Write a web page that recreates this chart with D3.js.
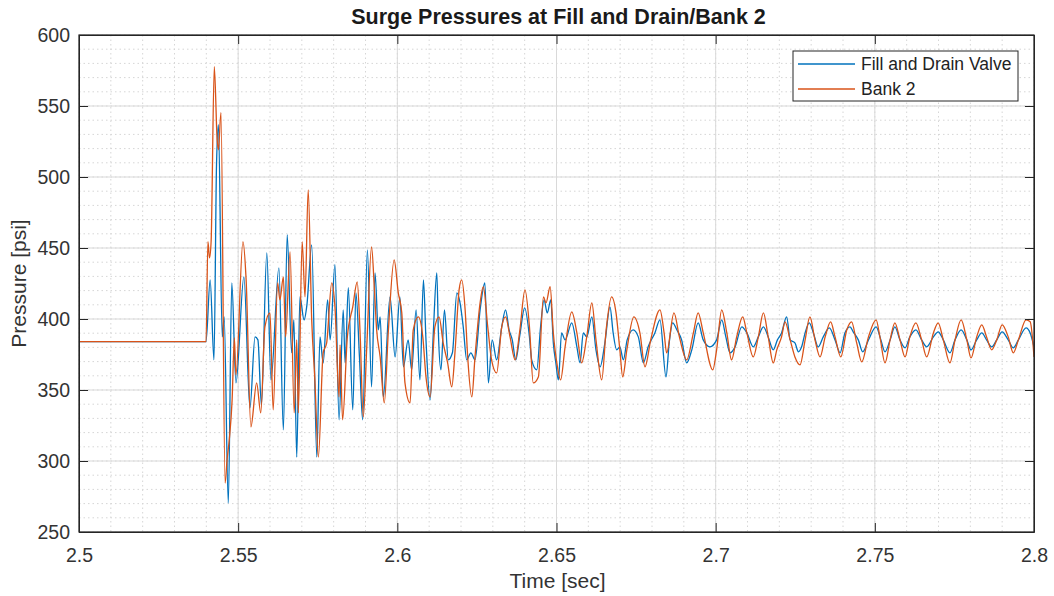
<!DOCTYPE html>
<html><head><meta charset="utf-8">
<script src="https://cdn.jsdelivr.net/npm/d3@7"></script>
<style>body{margin:0;background:#fff}text{font-family:"Liberation Sans",Arial,Helvetica,sans-serif}</style>
</head><body><svg id="c" width="1054" height="596"></svg>
<script>
const chartTitle = "Surge Pressures at Fill and Drain/Bank 2";
const xLabel = "Time [sec]";
const yLabel = "Pressure [psi]";
const xTicks = [2.5, 2.55, 2.6, 2.65, 2.7, 2.75, 2.8];
const xTickLabels = ["2.5", "2.55", "2.6", "2.65", "2.7", "2.75", "2.8"];
const yTicks = [250, 300, 350, 400, 450, 500, 550, 600];
const yTickLabels = ["250", "300", "350", "400", "450", "500", "550", "600"];
const seriesNames = ["Fill and Drain Valve", "Bank 2"];

// Fill and Drain Valve (blue)
const valveTime = [2.5000,2.5399,2.5412,2.5424,2.5432,2.5438,2.5450,2.5456,2.5469,2.5480,2.5493,2.5518,2.5537,2.5553,2.5562,2.5573,2.5590,2.5603,2.5628,2.5642,2.5654,2.5668,2.5675,2.5684,2.5694,2.5707,2.5716,2.5731,2.5747,2.5757,2.5767,2.5781,2.5789,2.5804,2.5817,2.5830,2.5836,2.5846,2.5860,2.5870,2.5881,2.5891,2.5906,2.5919,2.5930,2.5940,2.5946,2.5956,2.5977,2.5993,2.6008,2.6019,2.6034,2.6045,2.6059,2.6071,2.6082,2.6090,2.6103,2.6113,2.6124,2.6129,2.6137,2.6148,2.6160,2.6173,2.6187,2.6197,2.6207,2.6218,2.6231,2.6244,2.6260,2.6275,2.6286,2.6298,2.6312,2.6328,2.6340,2.6351,2.6361,2.6372,2.6385,2.6400,2.6415,2.6422,2.6438,2.6450,2.6461,2.6471,2.6482,2.6490,2.6498,2.6506,2.6516,2.6527,2.6548,2.6564,2.6574,2.6584,2.6595,2.6611,2.6624,2.6637,2.6652,2.6668,2.6678,2.6689,2.6699,2.6710,2.6722,2.6741,2.6757,2.6773,2.6788,2.6809,2.6825,2.6844,2.6854,2.6865,2.6878,2.6893,2.6909,2.6925,2.6945,2.6961,2.6982,2.7003,2.7019,2.7032,2.7045,2.7061,2.7082,2.7098,2.7118,2.7134,2.7150,2.7165,2.7181,2.7194,2.7207,2.7223,2.7234,2.7249,2.7260,2.7270,2.7281,2.7294,2.7307,2.7322,2.7338,2.7357,2.7375,2.7391,2.7406,2.7422,2.7432,2.7448,2.7462,2.7480,2.7504,2.7519,2.7532,2.7548,2.7563,2.7579,2.7595,2.7610,2.7629,2.7647,2.7663,2.7684,2.7699,2.7715,2.7736,2.7752,2.7771,2.7789,2.7802,2.7820,2.7836,2.7851,2.7867,2.7883,2.7900,2.7919,2.7935,2.7951,2.7975,2.7988,2.8000];
const valvePressure = [384,384,427.6,371.2,508.6,536.8,387.4,401.5,270.4,425.5,355,429.7,337.4,387.4,385.3,339.5,446.6,357.1,436,321.9,459.3,376.2,399.4,302.8,415.6,399.4,410,452.2,302.8,387.4,369.1,413.5,385.3,438.2,329,406.4,369.1,422,336,418.4,373.3,329,448.7,352.2,432.5,392.4,401.5,345.1,415.6,373.3,415.6,366.3,385.3,364.2,406.4,357.1,427.6,385.3,343,390.2,432.5,390.2,364.2,406.4,371.2,376.2,418.4,411.4,394.5,371.2,376.2,371.2,406.4,425.5,355,385.3,371.2,394.5,406.4,392.4,385.3,371.2,388.8,407.8,387.4,371.2,364.2,394.5,413.5,404.3,413.5,383.2,369.1,357.1,390.2,385.3,397.3,380.4,369.1,390.2,387.4,401.5,378.3,366.3,383.2,408.6,390.2,378.3,380.4,371.2,385.3,392.4,387.4,369.1,380.4,390.2,399.4,359.2,383.2,397.3,392.4,385.3,369.1,378.3,397.3,385.3,380.4,385.3,399.4,387.4,376.2,380.4,394.5,390.2,380.4,387.4,394.5,387.4,378.3,385.3,390.2,401.5,385.3,383.2,376.9,380.4,390.2,397.3,390.2,380.4,387.4,393.8,385.3,376.2,390.2,394.5,391,385.3,376.9,385.3,394.5,385.3,376.9,385.3,394.5,385.3,379.7,387.4,392.4,385.3,380.4,387.4,391,385.3,376.2,385.3,392.4,385.3,378.3,385.3,390.2,385.3,380.4,385.3,391,385.3,379.7,385.3,393.8,390.2,380.4];

// Bank 2 (orange)
const bankTime = [2.5000,2.5399,2.5405,2.5410,2.5415,2.5425,2.5434,2.5438,2.5446,2.5459,2.5465,2.5472,2.5481,2.5488,2.5493,2.5515,2.5525,2.5540,2.5558,2.5571,2.5584,2.5600,2.5610,2.5624,2.5631,2.5642,2.5649,2.5663,2.5676,2.5684,2.5689,2.5701,2.5710,2.5720,2.5731,2.5741,2.5752,2.5767,2.5778,2.5794,2.5804,2.5817,2.5820,2.5828,2.5843,2.5860,2.5874,2.5883,2.5893,2.5904,2.5919,2.5928,2.5935,2.5946,2.5959,2.5972,2.5990,2.6003,2.6014,2.6024,2.6040,2.6050,2.6066,2.6080,2.6090,2.6103,2.6118,2.6131,2.6144,2.6158,2.6171,2.6181,2.6194,2.6202,2.6213,2.6221,2.6234,2.6244,2.6260,2.6270,2.6284,2.6296,2.6312,2.6328,2.6340,2.6354,2.6370,2.6385,2.6401,2.6415,2.6427,2.6443,2.6459,2.6467,2.6480,2.6490,2.6503,2.6513,2.6527,2.6548,2.6564,2.6579,2.6595,2.6611,2.6624,2.6642,2.6656,2.6673,2.6687,2.6699,2.6708,2.6721,2.6743,2.6762,2.6778,2.6796,2.6825,2.6838,2.6846,2.6869,2.6886,2.6909,2.6930,2.6945,2.6961,2.6991,2.7003,2.7019,2.7035,2.7050,2.7066,2.7085,2.7098,2.7118,2.7134,2.7150,2.7165,2.7181,2.7192,2.7207,2.7218,2.7234,2.7249,2.7265,2.7281,2.7296,2.7312,2.7328,2.7344,2.7361,2.7375,2.7393,2.7412,2.7427,2.7443,2.7459,2.7480,2.7504,2.7516,2.7532,2.7548,2.7563,2.7579,2.7595,2.7610,2.7629,2.7647,2.7663,2.7684,2.7699,2.7715,2.7736,2.7752,2.7771,2.7789,2.7802,2.7820,2.7836,2.7851,2.7867,2.7883,2.7900,2.7919,2.7935,2.7951,2.7975,2.7988,2.8000];
const bankPressure = [384,384,454.4,443.1,454.4,577.7,526.2,519.2,545.3,284.5,300.7,314.8,343,386.7,360.6,454.4,427.6,324,355,333.9,394.5,404.3,336,425.5,413.5,429.7,387.4,447.3,333.9,385.3,333.9,454.4,415.6,491,399.4,357.1,302.8,376.2,383.2,425.5,408.6,345.1,381.8,329,387.4,408.6,426.2,390.2,331,380.4,450.8,420.5,392.4,373.3,340.9,392.4,441.7,418.4,404.3,355,340.9,392.4,401.5,387.4,359.2,345.1,394.5,401.5,383.2,369.1,352.2,376.2,420.5,427.6,406.4,373.3,345.1,373.3,411.4,422.7,394.5,371.2,362,394.5,401.5,387.4,371.2,392.4,420.5,394.5,355,359.2,415.6,411.4,422.7,390.2,366.3,357.1,380.4,405,390.2,369.1,387.4,411.4,385.3,357.1,392.4,415.6,404.3,378.3,359.2,378.3,401.5,390.2,366.3,385.3,406.4,390.2,376.2,404.3,387.4,371.2,390.2,404.3,390.2,364.2,378.3,406.4,390.2,371.2,387.4,401.5,390.2,373.3,387.4,404.3,387.4,369.1,378.3,387.4,398,385.3,373.3,367.7,385.3,401.5,385.3,373.3,387.4,398,387.4,373.3,392.4,398,383.2,369.8,387.4,399.4,387.4,369.1,385.3,397.3,385.3,373.3,387.4,397.3,385.3,373.3,390.2,397.3,385.3,369.1,385.3,399.4,385.3,372.6,387.4,395.9,387.4,378.3,385.3,395.9,387.4,376.2,385.3,399.4,398,373.3];

const W = 1054, H = 596;
const plot = {left: 79, top: 35, right: 1034, bottom: 532};
const svg = d3.select("#c");
svg.append("rect").attr("width", W).attr("height", H).attr("fill", "#fff");

const x = d3.scaleLinear().domain([2.5, 2.8]).range([plot.left, plot.right]);
const y = d3.scaleLinear().domain([250, 600]).range([plot.bottom, plot.top]);

const g = svg.append("g");
// minor grid
g.append("g").selectAll("line").data(x.ticks(30)).join("line")
  .attr("x1", d => x(d)).attr("x2", d => x(d)).attr("y1", plot.top).attr("y2", plot.bottom)
  .attr("stroke", "#d6d6d6").attr("stroke-width", 1).attr("stroke-dasharray", "1.5,3");
g.append("g").selectAll("line").data(y.ticks(35)).join("line")
  .attr("y1", d => y(d)).attr("y2", d => y(d)).attr("x1", plot.left).attr("x2", plot.right)
  .attr("stroke", "#d6d6d6").attr("stroke-width", 1).attr("stroke-dasharray", "1.5,3");
// major grid
g.append("g").selectAll("line").data(xTicks).join("line")
  .attr("x1", d => x(d)).attr("x2", d => x(d)).attr("y1", plot.top).attr("y2", plot.bottom)
  .attr("stroke", "#d9d9d9").attr("stroke-width", 1);
g.append("g").selectAll("line").data(yTicks).join("line")
  .attr("y1", d => y(d)).attr("y2", d => y(d)).attr("x1", plot.left).attr("x2", plot.right)
  .attr("stroke", "#d9d9d9").attr("stroke-width", 1);

// series
const line = d3.line().curve(d3.curveMonotoneX);
svg.append("clipPath").attr("id", "pc").append("rect")
  .attr("x", plot.left).attr("y", plot.top).attr("width", plot.right - plot.left).attr("height", plot.bottom - plot.top);
const series = [
  {name: seriesNames[0], t: valveTime, p: valvePressure, color: "#0072BD"},
  {name: seriesNames[1], t: bankTime, p: bankPressure, color: "#D95319"}
];
series.forEach(s => {
  const pts = s.t.map((t, i) => [x(t), y(s.p[i])]);
  svg.append("path").attr("d", line(pts)).attr("fill", "none")
    .attr("stroke", s.color).attr("stroke-width", 1.3).attr("stroke-linejoin", "round")
    .attr("clip-path", "url(#pc)");
});

// axes (ticks inward)
const axColor = "#262626";
const fmtX = d => xTickLabels[xTicks.indexOf(d)];
const fmtY = d => yTickLabels[yTicks.indexOf(d)];
const ax = svg.append("g").attr("transform", `translate(0,${plot.bottom})`)
  .call(d3.axisBottom(x).tickValues(xTicks).tickFormat(fmtX).tickSizeInner(-9).tickSizeOuter(0).tickPadding(16));
const axTop = svg.append("g").attr("transform", `translate(0,${plot.top})`)
  .call(d3.axisTop(x).tickValues(xTicks).tickFormat("").tickSizeInner(-9).tickSizeOuter(0));
const ay = svg.append("g").attr("transform", `translate(${plot.left},0)`)
  .call(d3.axisLeft(y).tickValues(yTicks).tickFormat(fmtY).tickSizeInner(-9).tickSizeOuter(0).tickPadding(9));
const ayR = svg.append("g").attr("transform", `translate(${plot.right},0)`)
  .call(d3.axisRight(y).tickValues(yTicks).tickFormat("").tickSizeInner(-9).tickSizeOuter(0));
[ax, axTop, ay, ayR].forEach(a => {
  a.select(".domain").attr("stroke", axColor);
  a.selectAll(".tick line").attr("stroke", axColor);
  a.selectAll("text").attr("fill", "#333").style("font-size", "19.5px")
    .style("font-family", '"Liberation Sans", Arial, Helvetica, sans-serif');
});
svg.append("rect").attr("x", plot.left).attr("y", plot.top)
  .attr("width", plot.right - plot.left).attr("height", plot.bottom - plot.top)
  .attr("fill", "none").attr("stroke", axColor).attr("stroke-width", 1.2);

// labels
svg.append("text").attr("x", (plot.left + plot.right) / 2 + 2).attr("y", 24)
  .attr("text-anchor", "middle").attr("font-weight", "bold").attr("font-size", 21.5).attr("fill", "#1a1a1a")
  .text(chartTitle);
svg.append("text").attr("x", (plot.left + plot.right) / 2 + 1).attr("y", 588)
  .attr("text-anchor", "middle").attr("font-size", 21).attr("fill", "#333").text(xLabel);
svg.append("text").attr("transform", `translate(26,${(plot.top + plot.bottom) / 2}) rotate(-90)`)
  .attr("text-anchor", "middle").attr("font-size", 21).attr("fill", "#333").text(yLabel);

// legend
const lg = svg.append("g").attr("transform", "translate(793,51)");
lg.append("rect").attr("width", 225).attr("height", 50).attr("fill", "#fff").attr("stroke", axColor).attr("stroke-width", 1);
series.forEach((s, i) => {
  const cy = 13 + i * 25;
  lg.append("line").attr("x1", 5).attr("x2", 62).attr("y1", cy).attr("y2", cy).attr("stroke", s.color).attr("stroke-width", 1.3);
  lg.append("text").attr("x", 68).attr("y", cy).attr("dy", "0.35em").attr("font-size", 17.5).attr("fill", "#222").text(s.name);
});
</script></body></html>
